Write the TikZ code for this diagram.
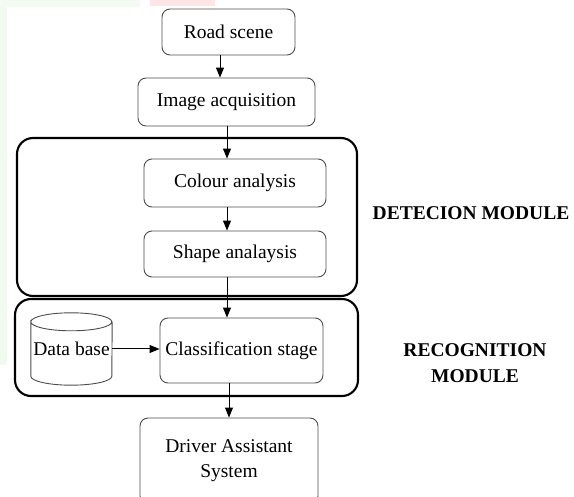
\documentclass[tikz,border=0pt]{standalone}
\usepackage{fontspec}
\setmainfont{Liberation Serif}
\usetikzlibrary{arrows.meta}
\begin{document}
\begin{tikzpicture}[x=1pt,y=-1pt,
  inner/.style={draw=black!70, line width=0.9pt, rounded corners=8pt, inner sep=0pt, align=center},
  outer/.style={draw=black, line width=2.1pt, rounded corners=16pt},
  arr/.style={draw=black, line width=1pt, -{Triangle[length=10pt,width=8pt]}},
  lbl/.style={font=\fontsize{19.5}{26}\selectfont\bfseries, align=center},
  every node/.append style={font=\fontsize{19.5}{25}\selectfont}]
\useasboundingbox (0,0) rectangle (574,497);
% faint background tints at the edges
\fill[yellow!12!green!6] (0,0) rectangle (7,365);
\fill[yellow!12!green!5] (0,0) rectangle (140,7);
\fill[red!10] (150,0) rectangle (215,6);
\begin{scope}
\clip (0,0) rectangle (574,497);
% module frames
\draw[outer] (17,138) rectangle (357,296);
\draw[outer] (15,299) rectangle (358,396);
% boxes
\node[inner, minimum width=133pt, minimum height=46pt] (rs) at (228.5,32) {Road scene};
\node[inner, minimum width=177pt, minimum height=48pt] (ia) at (226.5,102) {Image acquisition};
\node[inner, minimum width=182pt, minimum height=48pt] (ca) at (235,183) {Colour analysis};
\node[inner, minimum width=182pt, minimum height=46pt] (sa) at (235,254) {Shape analaysis};
\node[inner, minimum width=163pt, minimum height=65pt] (cs) at (241.5,350.5) {Classification stage};
\node[inner, minimum width=178pt, minimum height=86pt] (drv) at (229,461) {Driver Assistant\\System};
% database cylinder
\node[inner sep=0pt, minimum width=81pt, minimum height=72pt] (db) at (71.5,349) {Data base};
\draw[black!70, line width=0.9pt]
  ([yshift=-9pt]db.north west) arc[x radius=40.5pt, y radius=9pt, start angle=180, end angle=-180]
  -- ([yshift=9pt]db.south west)
  arc[x radius=40.5pt, y radius=9pt, start angle=180, end angle=360]
  -- ([yshift=-9pt]db.north east);
% arrows
\coordinate (x1) at (220,0);
\coordinate (x2) at (227,0);
\coordinate (x3) at (229,0);
\draw[arr] (rs.south -| x1) -- (ia.north -| x1);
\draw[arr] (ia.south -| x2) -- (ca.north -| x2);
\draw[arr] (ca.south -| x2) -- (sa.north -| x2);
\draw[arr] (sa.south -| x2) -- (cs.north -| x2);
\draw[arr] (cs.south -| x3) -- (drv.north -| x3);
\draw[arr] (db.east) -- (db.east -| cs.west);
\end{scope}
% module labels
\node[lbl] (detl) at (471,213) {DETECION MODULE};
\node[lbl] (recl) at (475,363) {RECOGNITION\\MODULE};
\end{tikzpicture}
\end{document}
